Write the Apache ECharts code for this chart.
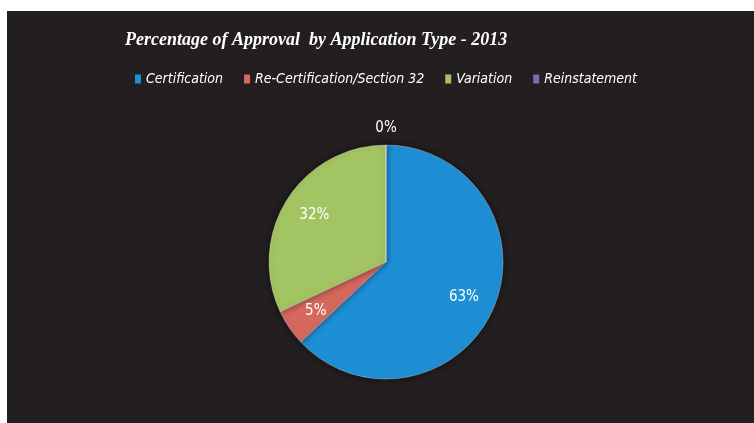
<!DOCTYPE html>
<html>
<head>
<meta charset="utf-8">
<script src="https://cdn.jsdelivr.net/npm/echarts@6/dist/echarts.min.js"></script>
<style>
  html, body { margin: 0; padding: 0; background: #ffffff; }
  #chart { position: absolute; left: 7px; top: 11px; width: 747px; height: 412px; }
</style>
</head>
<body>
<div id="chart"></div>
<script>
// data
var categories = ["Certification", "Re-Certification/Section 32", "Variation", "Reinstatement"];
var shares = [63, 5, 32, 0];
var colors = ["#1f8fd5", "#d6685e", "#a3c462", "#8467b0"];

var center = [379, 251];
var radius = 117;

var pieData = categories.map(function (name, i) {
  return { name: name, value: shares[i] };
});

var chart = echarts.init(document.getElementById("chart"));
chart.setOption({
  backgroundColor: "#231f20",
  animation: false,
  color: colors,
  title: {
    text: "Percentage of Approval  by Application Type - 2013",
    left: 113,
    top: 15,
    textStyle: {
      color: "#ffffff",
      fontFamily: "Liberation Serif",
      fontStyle: "italic",
      fontWeight: "bold",
      fontSize: 18,
    },
  },
  legend: {
    left: 123,
    top: 56,
    icon: "rect",
    itemWidth: 6,
    itemHeight: 9,
    itemGap: 21,
    data: categories,
    itemStyle: { borderWidth: 0 },
    textStyle: {
      color: "#ffffff",
      fontFamily: "DejaVu Sans Condensed",
      fontStyle: "italic",
      fontSize: 14,
    },
  },
  series: [
    {
      type: "pie",
      center: center,
      radius: [0, radius],
      startAngle: 90,
      clockwise: true,
      minShowLabelAngle: 0,
      itemStyle: {
        borderColor: "rgba(255,255,255,0.3)",
        borderWidth: 1,
        shadowColor: "rgba(0,0,0,0.5)",
        shadowBlur: 6,
      },
      label: {
        show: true,
        position: "inside",
        formatter: "{c}%",
        color: "#ffffff",
        fontFamily: "DejaVu Sans Condensed",
        fontSize: 15,
      },
      labelLine: { show: false },
      // push inner labels out from the centre a little, like the original;
      // the empty slice's label sits just above the top of the pie
      labelLayout: function (p) {
        var lx = p.labelRect.x + p.labelRect.width / 2;
        var ly = p.labelRect.y + p.labelRect.height / 2;
        if (p.dataIndex === 3) {
          return { dx: center[0] - lx, dy: center[1] - radius - 17 - ly };
        }
        return { dx: (lx - center[0]) * 0.38, dy: (ly - center[1]) * 0.42 };
      },
      data: pieData,
    },
  ],
});
</script>
</body>
</html>
